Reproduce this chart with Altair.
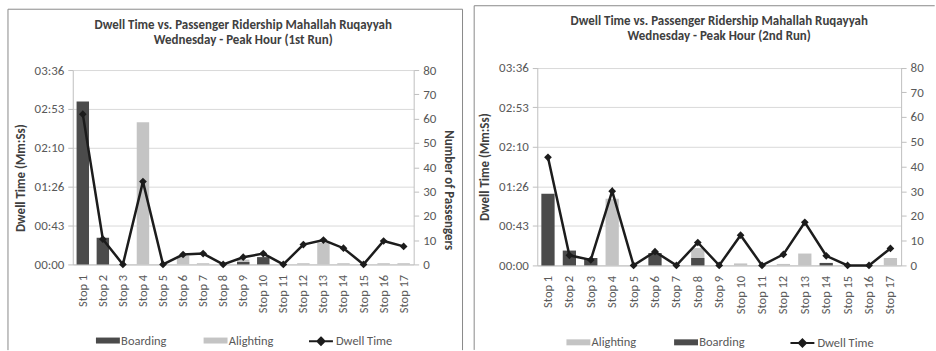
import altair as alt
import pandas as pd

# ---------------- data ----------------
stops = ["Stop 1", "Stop 2", "Stop 3", "Stop 4", "Stop 5", "Stop 6", "Stop 7", "Stop 8",
         "Stop 9", "Stop 10", "Stop 11", "Stop 12", "Stop 13", "Stop 14", "Stop 15",
         "Stop 16", "Stop 17"]

# 1st run (passengers / dwell seconds)
boarding_run1 = [67, 11, 0, 0, 0, 0, 0, 0, 1, 3, 0, 0, 0, 0, 0, 0, 0]
alighting_run1 = [0, 0, 0, 58.5, 0, 3.5, 0.5, 0, 2, 0.5, 0, 0.5, 9, 0.5, 0, 0.5, 0.5]
dwell_run1 = [167, 28, 0, 92, 0, 11, 12, 0, 8, 12, 0, 22, 27, 18, 0, 26, 20]

# 2nd run
boarding_run2 = [29, 6, 3, 0, 0, 5, 0, 3, 0, 0, 0, 0, 0, 1, 0, 0, 0]
alighting_run2 = [0, 0, 0, 27, 0, 0, 0, 7, 0, 0.8, 0, 0.6, 4.8, 0, 0, 0, 3]
dwell_run2 = [118, 11, 6, 81, 0, 15, 0, 25, 0, 33, 0, 12, 47, 10.5, 0, 0, 18.5]

title_line1 = "Dwell Time vs. Passenger Ridership Mahallah Ruqayyah"
title_run1 = "Wednesday - Peak Hour (1st Run)"
title_run2 = "Wednesday - Peak Hour (2nd Run)"
left_ticks = [0, 43.2, 86.4, 129.6, 172.8, 216]
right_ticks = [0, 10, 20, 30, 40, 50, 60, 70, 80]

FONT = "Carlito, Lato, sans-serif"
DARK = "#4b4b4b"
LIGHT = "#c4c4c4"
LINE = "#1c1c1c"
GRID = "#d9d9d9"
AXIS = "#bfbfbf"
FRAME = "#8a8a8a"
BAR_SYMBOL = "M-2,-0.5H2V0.5H-2Z"
LINE_SYMBOL = "M-2,0H2M0,-0.6L0.6,0L0,0.6L-0.6,0Z"
MMSS = "utcFormat(round(datum.value)*1000, '%M:%S')"


def panel(title2, boarding, alighting, dwell, bar_order, w, h, geo):
    bar_df = pd.DataFrame({
        "Stop": stops + stops,
        "Series": ["Alighting"] * len(stops) + ["Boarding"] * len(stops),
        "Passengers": alighting + boarding,
    })
    dwell_df = pd.DataFrame({
        "Stop": stops,
        "Dwell": dwell,
        "Series": ["Dwell Time"] * len(stops),
    })
    colors = [DARK if s == "Boarding" else LIGHT for s in bar_order]
    y_range = [h, geo["ytop"]]

    x = alt.X("Stop:N", sort=stops,
              scale=alt.Scale(paddingInner=0.38, paddingOuter=0.19),
              axis=alt.Axis(title=None, labelAngle=-90, ticks=False, labelPadding=10,
                            labelFontSize=12.5, domainColor=AXIS))

    right_axis = dict(orient="right", values=right_ticks, tickCount=len(right_ticks),
                      grid=False, tickSize=5, labelPadding=4, domainColor=AXIS,
                      tickColor=AXIS)
    if geo["right_title"]:
        right_axis.update(title="Number of Passengers", titleAngle=90,
                          titleY=geo["right_title_y"], titlePadding=6)
    else:
        right_axis.update(title=None)

    bars = alt.Chart(bar_df).mark_bar().encode(
        x=x,
        y=alt.Y("Passengers:Q", stack=None,
                scale=alt.Scale(domain=[0, 80], nice=False, range=y_range),
                axis=alt.Axis(**right_axis)),
        fill=alt.Fill("Series:N",
                      scale=alt.Scale(domain=bar_order, range=colors),
                      legend=alt.Legend(title=None, orient="none", direction="horizontal",
                                        legendX=geo["bar_lx"], legendY=geo["ly"],
                                        symbolType=BAR_SYMBOL, symbolSize=144,
                                        symbolStrokeWidth=0, labelOffset=7,
                                        columnPadding=geo["colpad"])),
    )

    line = alt.Chart(dwell_df).mark_line(strokeWidth=2.5).encode(
        x=x,
        y=alt.Y("Dwell:Q", scale=alt.Scale(domain=[0, 216], nice=False, range=y_range),
                axis=alt.Axis(orient="left", values=left_ticks,
                              tickCount=len(left_ticks), labelExpr=MMSS,
                              grid=True, gridColor=GRID, tickSize=5, labelPadding=4,
                              domainColor=AXIS, tickColor=AXIS,
                              title="Dwell Time (Mm:Ss)", titleY=geo["left_title_y"],
                              titlePadding=7)),
        stroke=alt.Stroke("Series:N",
                          scale=alt.Scale(domain=["Dwell Time"], range=[LINE]),
                          legend=alt.Legend(title=None, orient="none",
                                            legendX=geo["line_lx"], legendY=geo["ly"],
                                            symbolType=LINE_SYMBOL, symbolSize=144,
                                            symbolStrokeWidth=2, symbolFillColor=LINE,
                                            labelOffset=8)),
    )
    pts = alt.Chart(dwell_df).mark_point(shape="diamond", filled=True, size=60,
                                         color=LINE, opacity=1).encode(
        x=x, y=alt.Y("Dwell:Q"))

    one = pd.DataFrame({"k": [0]})
    frame = []
    for spec in geo["frame"]:
        frame.append(alt.Chart(one).mark_rule(color=FRAME, strokeWidth=1,
                                              strokeOpacity=spec.get("op", 1)).encode(
            **{k: alt.value(v) for k, v in spec.items() if k != "op"}))

    return alt.layer(bars, alt.layer(line, pts), *frame).resolve_scale(
        y="independent").properties(
        width=w, height=h,
        title=alt.Title([title_line1, title2], fontSize=13, fontWeight="bold",
                        color="#404040", font=FONT, lineHeight=15, baseline="bottom",
                        offset=-38, dy=geo["tdy"]))


geo1 = dict(right_title=True, right_title_y=120, left_title_y=108, ytop=0,
            bar_lx=29, line_lx=242, ly=265, colpad=37, tdy=16,
            frame=[dict(x=-65, y=-61, y2=281),
                   dict(x=-65, x2=391, y=-61),
                   dict(x=391, y=-61, y2=281),
                   dict(x=0, x2=10, y=-64.5, op=0)])
geo2 = dict(right_title=False, right_title_y=0, left_title_y=97, ytop=-2.5,
            bar_lx=35, line_lx=259, ly=266.8, colpad=37, tdy=13,
            frame=[dict(x=-63.3, y=-64.5, y2=280.8),
                   dict(x=-63.3, x2=398.7, y=-64.5)])

p1 = panel(title_run1, boarding_run1, alighting_run1, dwell_run1,
           ["Boarding", "Alighting"], 342, 195, geo1)
p2 = panel(title_run2, boarding_run2, alighting_run2, dwell_run2,
           ["Alighting", "Boarding"], 365, 196, geo2)

chart = alt.hconcat(p1, p2, spacing=10).resolve_scale(
    fill="independent", stroke="independent"
).resolve_legend(
    fill="independent", stroke="independent"
).properties(
    padding={"left": 7, "top": 4.7, "right": 0, "bottom": 0}
).configure_view(stroke=None).configure_axis(
    labelFont=FONT, labelFontSize=13, labelColor="#595959",
    titleFont=FONT, titleFontSize=13, titleColor="#404040", titleFontWeight="bold",
).configure_legend(
    labelFont=FONT, labelFontSize=12.5, labelColor="#595959",
)

chart.save("out.html", embed_options={"renderer": "svg", "actions": False})
